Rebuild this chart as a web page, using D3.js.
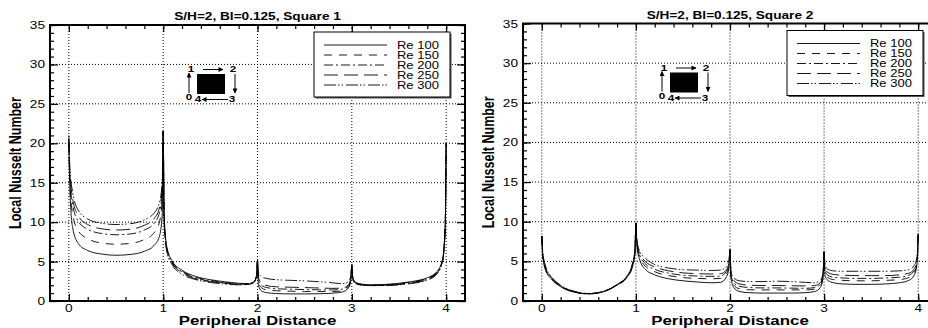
<!DOCTYPE html>
<html>
<head>
<meta charset="utf-8">
<script src="https://cdn.jsdelivr.net/npm/d3@7"></script>
<style>
  body { margin: 0; background: #fff; }
  svg { display: block; }
</style>
</head>
<body>
<svg id="chart" width="928" height="328"></svg>
<script>
// peripheral distance round the square (shared by all curves)
const dist = [0, 0.01, 0.04, 0.1, 0.2, 0.35, 0.5, 0.65, 0.8, 0.9, 0.96, 0.99,
    1, 1.01, 1.04, 1.1, 1.2, 1.35, 1.5, 1.65, 1.8, 1.9, 1.96, 1.99,
    2, 2.01, 2.04, 2.1, 2.2, 2.35, 2.5, 2.65, 2.8, 2.9, 2.96, 2.99,
    3, 3.01, 3.04, 3.1, 3.2, 3.35, 3.5, 3.65, 3.8, 3.9, 3.96, 3.99,
    4];

const reNames = ["Re 100", "Re 150", "Re 200", "Re 250", "Re 300"];

// Square 1 local Nusselt number
const sq1Re100 = [20, 14.5, 9.3, 7.3, 6.4, 5.95, 5.8, 5.9, 6.3, 7.0, 8.2, 11,
    21.5, 11, 6.8, 5.0, 3.9, 3.1, 2.7, 2.45, 2.25, 2.2, 2.4, 3.2,
    5.1, 2.0, 1.3, 1.05, 0.95, 0.9, 0.9, 0.92, 1.0, 1.15, 1.6, 2.6,
    4.6, 3.0, 2.4, 2.15, 2.05, 2.1, 2.25, 2.5, 2.95, 3.7, 5.2, 9.5,
    20];
const sq1Re150 = [20, 15.5, 11, 8.9, 7.9, 7.35, 7.2, 7.3, 7.8, 8.6, 10, 13,
    21.5, 10.8, 6.6, 4.9, 3.8, 3.0, 2.6, 2.35, 2.2, 2.15, 2.4, 3.2,
    5.1, 2.4, 1.7, 1.4, 1.3, 1.25, 1.2, 1.2, 1.2, 1.3, 1.7, 2.7,
    4.6, 2.95, 2.35, 2.1, 2.02, 2.05, 2.2, 2.45, 2.88, 3.62, 5.1, 9.4,
    20];
const sq1Re200 = [20.5, 16, 12.2, 10.1, 9.1, 8.55, 8.4, 8.5, 9.0, 9.8, 11.2, 14,
    21.5, 10.5, 6.5, 4.8, 3.7, 2.9, 2.5, 2.3, 2.15, 2.15, 2.4, 3.2,
    5.1, 2.7, 2.0, 1.7, 1.55, 1.5, 1.45, 1.42, 1.4, 1.5, 1.85, 2.8,
    4.6, 2.9, 2.3, 2.07, 2.0, 2.02, 2.15, 2.38, 2.8, 3.55, 5.0, 9.3,
    20];
const sq1Re250 = [20.5, 16.5, 13, 10.8, 9.7, 9.15, 9.0, 9.1, 9.6, 10.4, 11.8, 14.5,
    21.5, 10.3, 6.4, 4.7, 3.6, 2.8, 2.45, 2.25, 2.1, 2.1, 2.35, 3.2,
    5.1, 3.0, 2.3, 1.95, 1.8, 1.75, 1.7, 1.65, 1.6, 1.65, 2.0, 2.9,
    4.6, 2.85, 2.25, 2.03, 1.97, 1.98, 2.1, 2.32, 2.72, 3.48, 4.95, 9.2,
    20];
const sq1Re300 = [21, 17, 13.8, 11.5, 10.4, 9.85, 9.7, 9.8, 10.3, 11.1, 12.5, 15.2,
    21.5, 10, 6.2, 4.5, 3.4, 2.7, 2.35, 2.15, 2.05, 2.1, 2.35, 3.2,
    5.1, 3.6, 3.1, 2.85, 2.7, 2.62, 2.55, 2.45, 2.3, 2.2, 2.4, 3.2,
    4.6, 2.8, 2.2, 2.0, 1.95, 1.95, 2.05, 2.25, 2.65, 3.4, 4.9, 9.0,
    20];

// Square 2 local Nusselt number
const sq2Re100 = [8.2, 5.6, 3.9, 2.8, 1.8, 1.1, 0.9, 1.15, 2.0, 2.9, 4.2, 6.0,
    9.8, 7.0, 5.2, 4.0, 3.3, 2.8, 2.55, 2.4, 2.3, 2.35, 3.0, 4.3,
    6.5, 3.0, 1.7, 1.2, 1.05, 1.0, 1.0, 1.0, 1.05, 1.2, 1.7, 3.0,
    6.2, 3.2, 2.6, 2.3, 2.15, 2.1, 2.1, 2.15, 2.3, 2.6, 3.3, 5.0,
    8.5];
const sq2Re150 = [8.2, 5.75, 4.0, 2.88, 1.85, 1.12, 0.9, 1.16, 2.03, 2.95, 4.3, 6.15,
    9.8, 7.2, 5.5, 4.4, 3.7, 3.2, 2.95, 2.85, 2.8, 2.85, 3.4, 4.6,
    6.5, 3.2, 2.0, 1.55, 1.42, 1.4, 1.4, 1.4, 1.4, 1.5, 1.95, 3.2,
    6.2, 3.5, 2.95, 2.7, 2.6, 2.55, 2.55, 2.6, 2.7, 2.95, 3.6, 5.2,
    8.5];
const sq2Re200 = [8.2, 5.9, 4.12, 2.95, 1.9, 1.15, 0.92, 1.18, 2.06, 3.0, 4.4, 6.3,
    9.8, 7.4, 5.8, 4.7, 4.0, 3.5, 3.25, 3.15, 3.1, 3.15, 3.7, 4.8,
    6.5, 3.4, 2.3, 1.85, 1.7, 1.65, 1.65, 1.62, 1.6, 1.7, 2.1, 3.4,
    6.2, 3.8, 3.25, 3.0, 2.9, 2.85, 2.85, 2.9, 3.0, 3.25, 3.85, 5.4,
    8.5];
const sq2Re250 = [8.2, 6.05, 4.25, 3.02, 1.95, 1.18, 0.93, 1.19, 2.08, 3.05, 4.5, 6.45,
    9.8, 7.6, 6.0, 5.0, 4.3, 3.8, 3.55, 3.45, 3.4, 3.45, 3.9, 5.0,
    6.5, 3.6, 2.6, 2.15, 2.0, 1.95, 1.95, 1.92, 1.9, 1.95, 2.3, 3.5,
    6.2, 4.1, 3.6, 3.35, 3.25, 3.2, 3.2, 3.2, 3.3, 3.5, 4.1, 5.6,
    8.5];
const sq2Re300 = [8.2, 6.2, 4.4, 3.1, 2.0, 1.2, 0.95, 1.2, 2.1, 3.1, 4.6, 6.6,
    9.8, 7.8, 6.3, 5.4, 4.6, 4.15, 3.95, 3.9, 3.85, 3.9, 4.3, 5.2,
    6.5, 3.8, 2.9, 2.55, 2.45, 2.45, 2.5, 2.45, 2.35, 2.3, 2.6, 3.7,
    6.2, 4.5, 4.0, 3.8, 3.75, 3.75, 3.75, 3.75, 3.8, 3.95, 4.5, 5.9,
    8.5];

const xTicks = [0, 1, 2, 3, 4];
const yTicks = [0, 5, 10, 15, 20, 25, 30, 35];

// line styles for Re 100 .. Re 300
const dashes = [null, "8,7", "9,3,2,3", "14,6", "12,2,1.5,2,1.5,3"];

const SX = 1.3; // the original picture is stretched sideways
const FONT = "'Liberation Sans', Arial, Helvetica, sans-serif";

const panels = [
    {title: "S/H=2, Bl=0.125, Square 1", series: [sq1Re100, sq1Re150, sq1Re200, sq1Re250, sq1Re300],
        left: 50, right: 465, top: 25, bottom: 301, ylab: 17},
    {title: "S/H=2, Bl=0.125, Square 2", series: [sq2Re100, sq2Re150, sq2Re200, sq2Re250, sq2Re300],
        left: 523, right: 937, top: 23.5, bottom: 301, ylab: 490}
];

const svg = d3.select("#chart");

const defs = svg.append("defs");
defs.append("marker")
    .attr("id", "arrow")
    .attr("viewBox", "0 0 10 10")
    .attr("refX", 9).attr("refY", 5)
    .attr("markerWidth", 6).attr("markerHeight", 5)
    .attr("markerUnits", "userSpaceOnUse")
    .attr("orient", "auto")
    .append("path")
    .attr("d", "M0,0L10,5L0,10Z")
    .attr("fill", "#000");

function sText(g, x, y, str, size, weight, anchor) {
    return g.append("text")
        .attr("transform", `translate(${x},${y}) scale(${SX},1)`)
        .attr("text-anchor", anchor)
        .style("font-family", FONT)
        .style("font-size", size + "px")
        .style("font-weight", weight)
        .attr("fill", "#000")
        .text(str);
}

function drawPanel(p, idx) {
    const g = svg.append("g");
    const x = d3.scaleLinear().domain([-0.2, 4.2]).range([p.left, p.right]);
    const y = d3.scaleLinear().domain([0, 35]).range([p.bottom, p.top]);

    // dotted grid
    g.append("g").selectAll("line.vg")
        .data(xTicks)
        .enter().append("line")
        .attr("x1", d => x(d)).attr("x2", d => x(d))
        .attr("y1", p.top).attr("y2", p.bottom)
        .attr("stroke", "#000").attr("stroke-width", 1)
        .attr("stroke-dasharray", "1,2");
    g.append("g").selectAll("line.hg")
        .data(yTicks.filter(d => d > 0 && d < 35))
        .enter().append("line")
        .attr("x1", p.left).attr("x2", p.right)
        .attr("y1", d => y(d)).attr("y2", d => y(d))
        .attr("stroke", "#000").attr("stroke-width", 1)
        .attr("stroke-dasharray", "1,2");

    // curves
    const clipId = "clip" + idx;
    defs.append("clipPath").attr("id", clipId)
        .append("rect")
        .attr("x", p.left).attr("y", p.top)
        .attr("width", p.right - p.left).attr("height", p.bottom - p.top);

    const line = d3.line()
        .x((d, i) => x(dist[i]))
        .y(d => y(d))
        .curve(d3.curveMonotoneX);

    g.append("g").attr("clip-path", `url(#${clipId})`)
        .selectAll("path")
        .data(p.series)
        .enter().append("path")
        .attr("d", line)
        .attr("fill", "none")
        .attr("stroke", "#000")
        .attr("stroke-width", 0.9)
        .attr("stroke-dasharray", (d, i) => dashes[i]);

    // ticks (inward on all four sides)
    const axes = g.append("g").attr("stroke", "#000");
    const addAxis = (axis, tr) => {
        const a = axes.append("g").attr("transform", tr).call(axis);
        a.select(".domain").remove();
        a.selectAll("text").remove();
        a.selectAll("line").attr("stroke-width", 1.2);
    };
    addAxis(d3.axisBottom(x).tickValues(xTicks).tickSize(-7), `translate(0,${p.bottom})`);
    addAxis(d3.axisBottom(x).ticks(22).tickSize(-4), `translate(0,${p.bottom})`);
    addAxis(d3.axisTop(x).tickValues(xTicks).tickSize(-7), `translate(0,${p.top})`);
    addAxis(d3.axisTop(x).ticks(22).tickSize(-4), `translate(0,${p.top})`);
    addAxis(d3.axisLeft(y).tickValues(yTicks).tickSize(-8), `translate(${p.left},0)`);
    addAxis(d3.axisLeft(y).ticks(35).tickSize(-4), `translate(${p.left},0)`);
    addAxis(d3.axisRight(y).tickValues(yTicks).tickSize(-8), `translate(${p.right},0)`);
    addAxis(d3.axisRight(y).ticks(35).tickSize(-4), `translate(${p.right},0)`);

    // frame
    g.append("rect")
        .attr("x", p.left).attr("y", p.top)
        .attr("width", p.right - p.left).attr("height", p.bottom - p.top)
        .attr("fill", "none").attr("stroke", "#000").attr("stroke-width", 2);

    // tick labels
    xTicks.forEach(t => sText(g, x(t), p.bottom + 10.5, t, 10.5, "normal", "middle"));
    yTicks.forEach(t => sText(g, p.left - 5, y(t) + 4, t, 10.5, "normal", "end"));

    // titles
    sText(g, (p.left + p.right) / 2, p.top - 5, p.title, 10.5, "bold", "middle");
    sText(g, (p.left + p.right) / 2, 325, "Peripheral Distance", 13, "bold", "middle");
    g.append("text")
        .attr("transform", `translate(${p.ylab + 4},${(p.top + p.bottom) / 2}) rotate(-90) scale(1,${SX})`)
        .attr("text-anchor", "middle")
        .style("font-family", FONT)
        .style("font-size", "12.5px")
        .style("font-weight", "bold")
        .text("Local Nusselt Number");

    // legend
    const lx = p.left + 264, ly = p.top + 7;
    const lg = g.append("g");
    lg.append("rect").attr("x", lx + 1.5).attr("y", ly + 1.5).attr("width", 136).attr("height", 65)
        .attr("fill", "#555");
    lg.append("rect").attr("x", lx).attr("y", ly).attr("width", 136).attr("height", 65)
        .attr("fill", "#fff").attr("stroke", "#000").attr("stroke-width", 1);
    reNames.forEach((name, i) => {
        const ry = ly + 13 + i * 10;
        lg.append("line")
            .attr("x1", lx + 10).attr("x2", lx + 73)
            .attr("y1", ry).attr("y2", ry)
            .attr("stroke", "#000").attr("stroke-width", 0.9)
            .attr("stroke-dasharray", dashes[i]);
        sText(lg, lx + 83, ry + 3.5, name, 10, "normal", "start");
    });

    // little square with numbered corners
    const sx = p.left + 147, sy = p.top + 49;
    const ins = g.append("g").attr("transform", `translate(${sx},${sy})`);
    ins.append("rect").attr("x", 0).attr("y", 0).attr("width", 28).attr("height", 20).attr("fill", "#000");
    const arr = (x1, y1, x2, y2) => ins.append("line")
        .attr("x1", x1).attr("y1", y1).attr("x2", x2).attr("y2", y2)
        .attr("stroke", "#000").attr("stroke-width", 1)
        .attr("marker-end", "url(#arrow)");
    arr(6, -4.5, 26, -4.5);
    arr(38, 0, 38, 19);
    arr(31, 25.5, 5, 25.5);
    arr(-8, 19, -8, -1);
    [["1", -6, -2], ["2", 36, -2], ["3", 35, 28], ["4", 1, 28], ["0", -8, 26]].forEach(d =>
        sText(ins, d[1], d[2], d[0], 9, "bold", "middle"));
}

panels.forEach(drawPanel);
</script>
</body>
</html>
